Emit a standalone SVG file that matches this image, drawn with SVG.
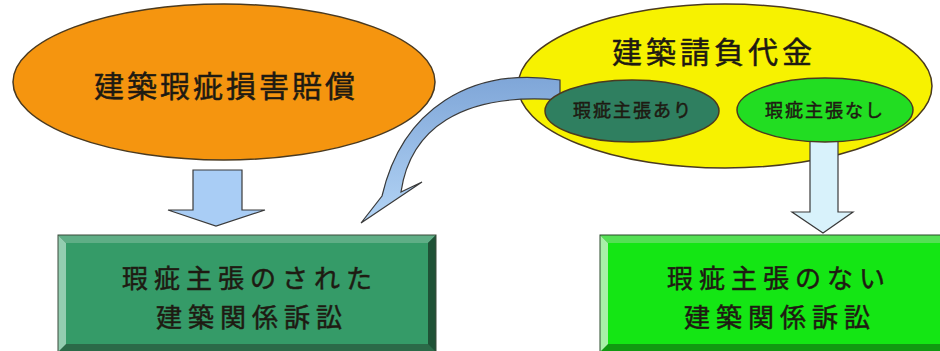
<svg xmlns="http://www.w3.org/2000/svg" width="940" height="351" viewBox="0 0 940 351">
  <defs>
    <linearGradient id="curveGrad" x1="0" y1="0" x2="0" y2="1">
      <stop offset="0" stop-color="#7fa6d8"/>
      <stop offset="1" stop-color="#b3d4f5"/>
    </linearGradient>
  </defs>
  <style>
    .lbl { font-family: "Noto Sans CJK JP", "Noto Sans CJK SC", sans-serif; fill: #1e1a12; stroke: #1e1a12; stroke-width: 0.5; text-anchor: middle; }
    .big { font-size: 30px; letter-spacing: 3px; }
    .box { font-size: 26px; letter-spacing: 6px; }
    .small { font-size: 18px; letter-spacing: 2px; }
    .edge { stroke: #3a3a3a; stroke-width: 1.2; }
    .outline { stroke: #4a3a20; stroke-width: 1.5; }
  </style>
  <rect x="0" y="0" width="940" height="351" fill="#ffffff"/>

  <g id="node-damages">
    <ellipse cx="224" cy="82" rx="211" ry="78" fill="#f5950f" class="outline"/>
    <text class="lbl big" x="226" y="97">建築瑕疵損害賠償</text>
  </g>

  <g id="node-contract">
    <ellipse cx="725" cy="86" rx="207" ry="82" fill="#f7f200" class="outline"/>
    <text class="lbl big" x="714" y="63" style="letter-spacing:4px">建築請負代金</text>
  </g>

  <g id="connectors">
    <path class="edge" fill="url(#curveGrad)" d="M 560 80 C 470 66, 402 110, 382 196 L 361 223 L 422 182 L 401 192 C 410 130, 460 92, 560 100 Z"/>
    <path class="edge" fill="#a9cdf5" d="M 193 170 L 242 170 L 242 210 L 265 210 L 216 226 L 168 210 L 193 210 Z"/>
    <path class="edge" fill="#d8f2fb" d="M 810 140 L 838 140 L 838 212 L 853 212 L 823 233 L 792 212 L 810 212 Z"/>
  </g>

  <g id="node-with-claim">
    <ellipse cx="632" cy="111" rx="87" ry="31" fill="#2f7f60" class="outline"/>
    <text class="lbl small" x="633" y="117">瑕疵主張あり</text>
  </g>

  <g id="node-without-claim">
    <ellipse cx="825" cy="110" rx="88" ry="32" fill="#22dd22" class="outline"/>
    <text class="lbl small" x="825" y="117">瑕疵主張なし</text>
  </g>

  <g id="node-suit-claimed">
    <rect x="58" y="235" width="378" height="120" fill="#2b6a48"/>
    <polygon points="58,235 436,235 428,243 66,243" fill="#5fae86"/>
    <polygon points="58,235 66,243 66,344 58,352" fill="#93cdb0"/>
    <polygon points="436,235 436,352 428,344 428,243" fill="#1f5236"/>
    <rect x="66" y="243" width="362" height="101" fill="#359b68"/>
    <rect x="58" y="235" width="378" height="120" fill="none" stroke="#3a4a3a" stroke-width="1"/>
    <text class="lbl box" x="250" y="288">瑕疵主張のされた</text>
    <text class="lbl box" x="252" y="327">建築関係訴訟</text>
  </g>

  <g id="node-suit-unclaimed">
    <rect x="600" y="235" width="345" height="120" fill="#119911"/>
    <polygon points="600,235 945,235 945,243 608,243" fill="#55e055"/>
    <polygon points="600,235 608,243 608,344 600,352" fill="#a8f0a8"/>
    <rect x="608" y="243" width="340" height="101" fill="#14e614"/>
    <rect x="600" y="235" width="345" height="120" fill="none" stroke="#2a4a2a" stroke-width="1"/>
    <text class="lbl box" x="779" y="288">瑕疵主張のない</text>
    <text class="lbl box" x="780" y="327">建築関係訴訟</text>
  </g>
</svg>
